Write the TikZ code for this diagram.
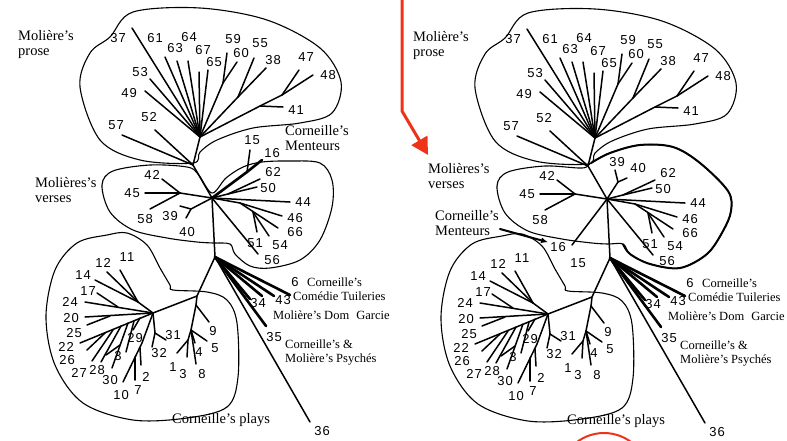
\documentclass[tikz,border=0pt]{standalone}
\usepackage{fontspec}
\setmainfont{Liberation Serif}
\newfontfamily\numfont[LetterSpace=8]{Liberation Sans}
\usetikzlibrary{arrows.meta}
\definecolor{redarrow}{RGB}{238,52,24}
\tikzset{
 num/.style={font=\numfont\fontsize{13}{13}\selectfont, inner sep=0pt},
 br/.style={line width=1.5pt, line cap=round},
 tb/.style={line width=2.6pt, line cap=round},
 outl/.style={line width=1.1pt},
 boldoutl/.style={line width=2pt},
 biglbl/.style={font=\fontsize{14.5}{15.5}\selectfont, align=left, inner sep=0pt, anchor=north west},
 smlbl/.style={font=\fontsize{12.5}{14}\selectfont, align=left, inner sep=0pt},
}
\newcommand\mkleaf[8][br]{\coordinate (e#2) at (#4,#5); \node[num] (n#2) at (#6,#7) {#3}; \draw[#1] (#8) -- (e#2);}
\newcommand\sharedpanel{%
 % junctions
 \coordinate (hP) at (200,137); \coordinate (J1) at (193,165);
 \coordinate (hV) at (212,198); \coordinate (hC) at (215,257);
 \coordinate (A) at (223,83); \coordinate (B) at (238,97);
 \coordinate (C) at (282,95); \coordinate (D) at (260,106);
 \coordinate (E) at (180,193); \coordinate (G) at (228,194);
 \coordinate (H) at (240,203); \coordinate (I) at (253,212);
 \coordinate (L) at (197,296); \coordinate (U) at (196,305);
 \coordinate (N) at (191,330); \coordinate (O) at (188,340);
 \coordinate (M) at (153,313); \coordinate (P) at (138,302);
 \coordinate (Q) at (118,307); \coordinate (R20) at (110,316);
 \coordinate (Z1) at (105,333); \coordinate (Z2) at (113,330);
 \coordinate (Z3) at (121,326); \coordinate (Z4) at (128,323);
 \coordinate (Z5) at (134,321); \coordinate (Z6) at (140,318);
 \coordinate (Z4s) at (120,345);
 \coordinate (S) at (142,343); \coordinate (V) at (135,357);
 \coordinate (W) at (140,348); \coordinate (T) at (155,333);
 % trunk
 \draw[br] (hP) -- (J1) -- (hV) -- (hC) -- (L) -- (U) -- (N) -- (O);
 \draw[br] (L) -- (M) -- (P);
 \draw[br] (hP) -- (A); \draw[br] (hP) -- (B); \draw[br] (hP) -- (D) -- (C);
 \draw[br] (hV) -- (E); \draw[br] (hV) -- (G); \draw[br] (hV) -- (H);
 \draw[br] (M) -- (S); \draw[br] (M) -- (T);
 % prose
 \mkleaf{37}{37}{132}{28}{118}{38}{hP}
 \mkleaf{61}{61}{165}{57}{155}{38}{hP}
 \mkleaf{63}{63}{177}{61}{175}{48}{hP}
 \mkleaf{64}{64}{188}{61}{189}{37}{hP}
 \mkleaf{67}{67}{199}{72}{203}{50}{hP}
 \mkleaf{65}{65}{208}{70}{214}{62}{hP}
 \mkleaf{53}{53}{150}{79}{140}{72}{hP}
 \mkleaf{49}{49}{145}{91}{129}{93}{hP}
 \mkleaf{59}{59}{227}{53}{233}{39}{A}
 \mkleaf{60}{60}{237}{62}{241}{53}{A}
 \mkleaf{55}{55}{254}{58}{260}{43}{B}
 \mkleaf{38}{38}{266}{68}{273}{60}{B}
 \mkleaf{47}{47}{299}{70}{306}{57}{C}
 \mkleaf{48}{48}{313}{75}{328}{75}{C}
 \mkleaf{41}{41}{283}{107}{296}{110}{D}
 \mkleaf{57}{57}{122}{135}{116}{125}{J1}
 \mkleaf{52}{52}{155}{130}{149}{117}{J1}
 % verses
 \mkleaf{42}{42}{162}{179}{152}{175}{E}
 \mkleaf{45}{45}{145}{193}{132}{193}{E}
 \mkleaf{58}{58}{150}{209}{145}{219}{E}
 \mkleaf{62}{62}{260}{179}{273}{172}{G}
 \mkleaf{50}{50}{257}{187}{268}{188}{G}
 \mkleaf{44}{44}{290}{202}{303}{202}{hV}
 \mkleaf{46}{46}{282}{216}{295}{218}{H}
 \mkleaf{66}{66}{278}{228}{295}{232}{H}
 \mkleaf{51}{51}{257}{232}{255}{243}{I}
 \mkleaf{54}{54}{269}{236}{280}{245}{I}
 \mkleaf{56}{56}{258}{254}{272}{260}{hV}
 % Corneille bundle
 \mkleaf[tb]{6}{6}{290}{295}{295}{282}{hC}
 \mkleaf[tb]{43}{43}{274}{296}{283}{300}{hC}
 \coordinate (ex) at (262,296); \draw[tb] (hC) -- (ex);
 \mkleaf[tb]{34}{34}{250}{299}{258}{303}{hC}
 \mkleaf[tb]{35}{35}{266}{326}{274}{337}{hC}
 \mkleaf{36}{36}{310}{422}{322}{431}{hC}
 % Corneille plays
 \mkleaf{12}{12}{107}{272}{103}{263}{P}
 \mkleaf{11}{11}{120}{270}{127}{257}{P}
 \mkleaf{14}{14}{95}{280}{83}{275}{P}
 \mkleaf{17}{17}{97}{293}{88}{291}{Q}
 \mkleaf{24}{24}{85}{302}{70}{302}{M}
 \mkleaf{20}{20}{85}{317}{71}{318}{M}
 \coordinate (e20b) at (87,325); \draw[br] (R20) -- (e20b);
 \mkleaf{25}{25}{80}{343}{74}{333}{M}
 \mkleaf{22}{22}{87}{350}{66}{347}{Z1}
 \mkleaf{26}{26}{92}{361}{67}{360}{Z2}
 \mkleaf{27}{27}{101}{362}{79}{373}{Z3}
 \mkleaf{30}{30}{112}{368}{110}{380}{Z4}
 \mkleaf{28}{28}{106}{355}{97}{370}{Z4s}
 \mkleaf{3a}{3}{126}{352}{118}{356}{Z5}
 \mkleaf{29}{29}{133}{330}{135}{338}{Z6}
 \mkleaf{10}{10}{123}{382}{121}{395}{S}
 \mkleaf{7}{7}{135}{380}{138}{390}{V}
 \mkleaf{2}{2}{141}{365}{146}{377}{W}
 \mkleaf{31}{31}{166}{340}{173}{335}{T}
 \mkleaf{32}{32}{152}{347}{159}{353}{T}
 \mkleaf{9}{9}{209}{322}{213}{331}{U}
 \mkleaf{5}{5}{207}{341}{215}{348}{N}
 \mkleaf{4}{4}{195}{343}{199}{352}{N}
 \mkleaf{8}{8}{196}{364}{202}{374}{N}
 \mkleaf{1}{1}{177}{353}{173}{367}{O}
 \mkleaf{3b}{3}{187}{357}{183}{374}{O}
 % outlines
 \draw[outl] plot[smooth cycle, tension=0.55] coordinates {(110,37) (133,12) (200,8) (267,20) (320,48) (341,82) (332,113) (300,123) (253,128) (217,140) (200,152) (193,163) (140,160) (100,140) (80,87) (90,53)};
 \draw[outl] plot[smooth cycle, tension=0.55] coordinates {(127,233) (107,235) (77,243) (55,270) (46,317) (55,365) (83,403) (133,420) (187,418) (227,407) (238,377) (237,323) (227,300) (207,292) (173,290) (170,285) (160,268) (147,245)};
 % group labels
 \node[biglbl] (prose) at (18,30) {Molière's\\prose};
 \node[smlbl, anchor=north west] (tuil) at (293,278) {\hspace*{14pt}Corneille's\\Comédie Tuileries};
 \node[smlbl, anchor=base west] (garcie) at (273,319) {Molière's Dom\hspace{4pt} Garcie};
 \node[smlbl, anchor=north west] (psyche) at (285,340) {Corneille's \&\\Molière's Psychés};
 \node[biglbl, anchor=base west] (plays) at (172,423) {Corneille's plays};
}
\begin{document}
\begin{tikzpicture}[x=1pt,y=-1pt]
\useasboundingbox (0,0) rectangle (787,440);
\clip (0,0) rectangle (787,440);
% left panel
\begin{scope}[name prefix=L-]
 \sharedpanel
 \draw[outl] plot[smooth cycle, tension=0.55] coordinates {(102,185) (113,171) (150,165) (187,167) (198,174) (212,193) (226,178) (243,167) (262,162) (290,161) (320,163) (332,180) (332,207) (320,240) (300,260) (270,268) (250,266) (235,254) (230,244) (213,243) (197,242) (167,238) (133,230) (110,212)};
 \coordinate (F) at (191,209); \draw[br] (hV) -- (F);
 \mkleaf{39}{39}{180}{206}{170}{216}{F}
 \mkleaf{40}{40}{186}{218}{187}{232}{F}
 \coordinate (K) at (247,172); \draw[tb] (hV) -- (K);
 \mkleaf{15}{15}{250}{150}{252}{140}{K}
 \mkleaf[tb]{16}{16}{262}{160}{272}{153}{K}
 \node[biglbl] (ment) at (285,125) {Corneille's\\Menteurs};
 \node[biglbl] (verses) at (35,177) {Molières's\\verses};
\end{scope}
% right panel
\begin{scope}[shift={(395,1)}, name prefix=R-]
 \sharedpanel
 \draw[outl] plot[smooth cycle, tension=0.55] coordinates {(102,185) (113,171) (150,165) (187,167) (196,162) (215,152) (245,144) (278,146) (305,162) (333,190) (336,210) (328,230) (312,253) (285,267) (255,263) (235,253) (228,243) (213,243) (197,242) (167,238) (133,230) (110,212)};
 \draw[boldoutl] plot[smooth, tension=0.55] coordinates {(196,162) (215,152) (245,144) (278,146) (305,162) (333,190) (336,210) (328,230) (312,253) (285,267) (255,263) (235,253) (228,243)};
 \coordinate (F) at (223,181); \draw[br] (hV) -- (F);
 \mkleaf{39}{39}{220}{169}{222}{161}{F}
 \mkleaf{40}{40}{232}{177}{243}{167}{F}
 \mkleaf{16}{16}{177}{244}{163}{246}{hV}
 \node[num] (n15) at (183,262) {15};
 \node[biglbl] (ment) at (40,209) {Corneille's\\Menteurs};
 \node[biglbl] (verses) at (33,162) {Molières's\\verses};
 \coordinate (arrS) at (105,228);
 \draw[tb, line width=2pt, -{Latex[length=7pt,width=6pt]}] (arrS) -- ([xshift=-2pt]n16.north west);
\end{scope}
% red annotations
\coordinate (ra1) at (402,-5); \coordinate (ra2) at (402,111); \coordinate (ra3) at (428,155);
\draw[redarrow, line width=3pt, -{Triangle[length=17pt,width=18pt]}] (ra1) -- (ra2) -- (ra3);
\coordinate (rc) at (604,478);
\draw[redarrow, line width=2pt] (rc) circle (45);
\end{tikzpicture}
\end{document}
